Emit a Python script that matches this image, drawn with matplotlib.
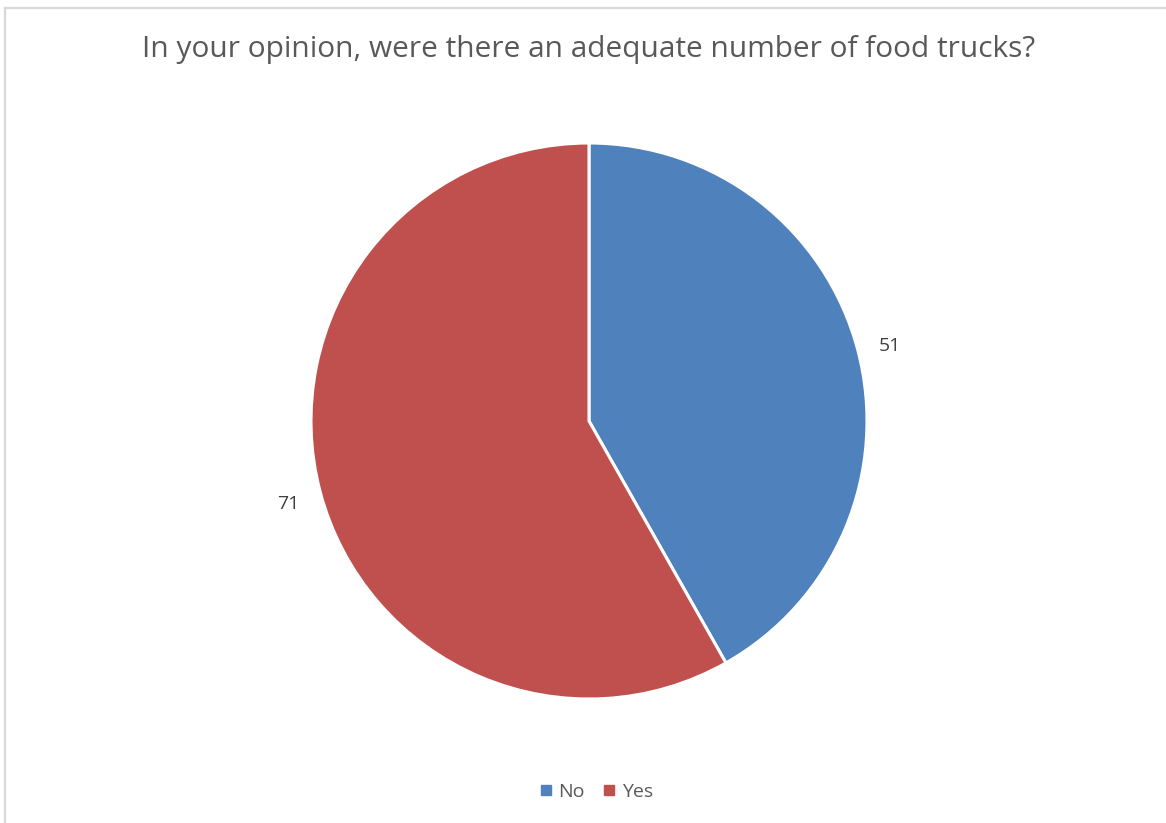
import numpy as np
import matplotlib
matplotlib.use("Agg")
import matplotlib.pyplot as plt
from matplotlib.lines import Line2D

categories = ["No", "Yes"]
values = [51, 71]
colors = ["#4F81BD", "#C0504D"]
title = "In your opinion, were there an adequate number of food trucks?"

plt.rcParams['font.family'] = ['Open Sans', 'DejaVu Sans']

W, H = 1166, 823
fig = plt.figure(figsize=(W / 100, H / 100), dpi=100)
fig.patch.set_facecolor("white")

# border lines (top and left)
fig.add_artist(Line2D([4.5 / W, 1], [1 - 7.5 / H, 1 - 7.5 / H], transform=fig.transFigure,
                      color="#d9d9d9", lw=1.6))
fig.add_artist(Line2D([4.5 / W, 4.5 / W], [0, 1 - 7.5 / H], transform=fig.transFigure,
                      color="#d9d9d9", lw=1.6))

cx, cy, r = 589, 421, 278
ax = fig.add_axes([(cx - r) / W, 1 - (cy + r) / H, 2 * r / W, 2 * r / H])
wedges, _ = ax.pie(values, colors=colors, startangle=90, counterclock=False,
                   radius=1, wedgeprops=dict(edgecolor="white", linewidth=2.2))
ax.set_xlim(-1, 1)
ax.set_ylim(-1, 1)
ax.set_aspect("equal")
ax.axis("off")

for w, v in zip(wedges, values):
    ang = np.deg2rad((w.theta1 + w.theta2) / 2)
    d = 1.12
    ax.text(d * np.cos(ang), d * np.sin(ang) - 0.015, str(v), ha="center", va="center",
            fontsize=14, color="#404040", clip_on=False)

fig.text(589 / W, 1 - 50 / H, title, ha="center", va="center",
         fontsize=21.5, color="#595959")

handles = [Line2D([], [], marker="s", linestyle="", markersize=6.5,
                  markerfacecolor=c, markeredgecolor=c) for c in colors]
fig.legend(handles, categories, loc="center", bbox_to_anchor=(596 / W, 1 - 792 / H),
           ncol=2, frameon=False, fontsize=14, handlelength=0.7, handletextpad=0.3,
           columnspacing=0.9, labelcolor="#595959")

fig.savefig("out.png", dpi=100, facecolor="white")
